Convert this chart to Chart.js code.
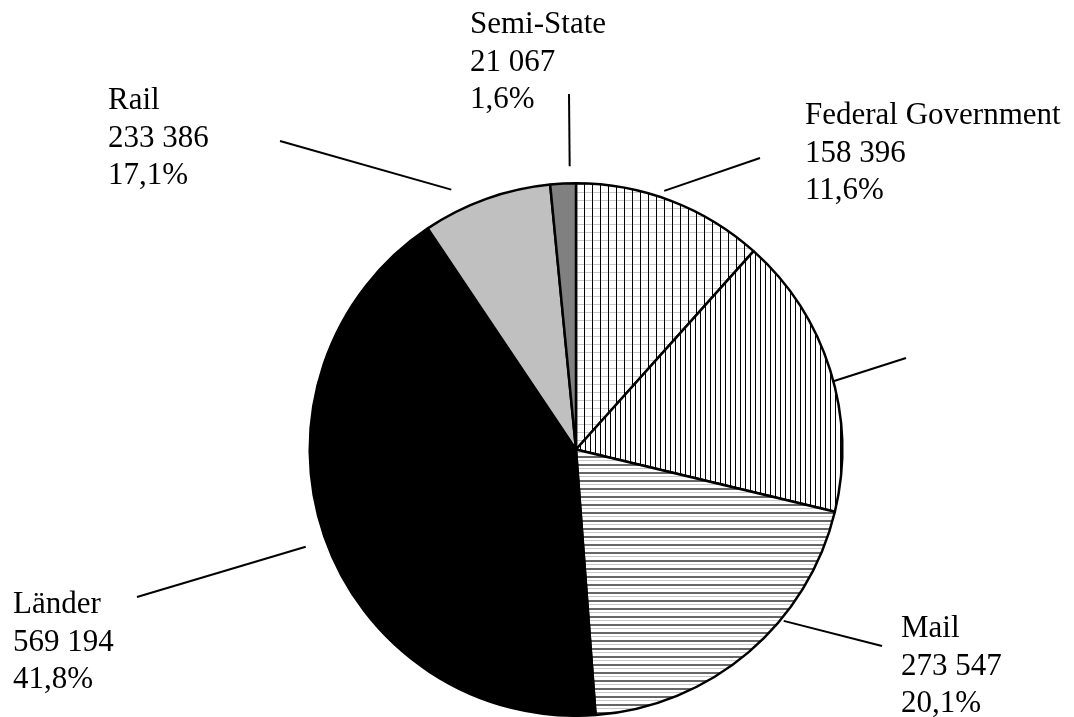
<!DOCTYPE html>
<html>
<head>
<meta charset="utf-8">
<script src="https://cdn.jsdelivr.net/npm/chart.js@4.4.0/dist/chart.umd.min.js"></script>
<style>
  html, body { margin: 0; padding: 0; background: #fff; }
  #wrap { width: 1074px; height: 717px; }
</style>
</head>
<body>
<div id="wrap"><canvas id="chart" width="1074" height="717"></canvas></div>
<script>
// slices clockwise from the top
const categories = ["Federal Government", "", "Mail", "Länder", "Rail", "Semi-State"];
const sliceValues = [158396, 233386, 273547, 569194, 107000, 21067];
// printed label text (as in the picture)
const labelNumbers = ["158 396", "", "273 547", "569 194", "233 386", "21 067"];
const labelShares = ["11,6%", "", "20,1%", "41,8%", "17,1%", "1,6%"];

// leader lines: t = position inside slice, gap = distance from the rim, end = outer point
// text = left x / first baseline of the label block
const labelLayout = [
  { t: 0.45, gap: 7, end: [760, 158], text: [805, 124] },
  { t: 0.54, gap: 0, end: [906, 358], text: null },
  { t: 0.36, gap: 3, end: [882, 646], text: [901, 637] },
  { t: 0.495, gap: 21, end: [137, 597], text: [13, 613] },
  { t: 0.29, gap: 22, end: [280, 141], text: [108, 109] },
  { t: 0.77, gap: 17, end: [569, 94], text: [470, 33] }
];

function makePattern(w, h, draw) {
  const c = document.createElement("canvas");
  c.width = w; c.height = h;
  const g = c.getContext("2d");
  g.fillStyle = "#fff";
  g.fillRect(0, 0, w, h);
  draw(g);
  return document.getElementById("chart").getContext("2d").createPattern(c, "repeat");
}

const gridPattern = makePattern(8, 8, g => {
  g.fillStyle = "#c8c8c8";
  g.fillRect(0, 0, 8, 1);
  g.fillStyle = "#000";
  g.fillRect(0, 0, 1, 8);
});
const vertPattern = makePattern(5, 5, g => {
  g.fillStyle = "#000";
  g.fillRect(0, 0, 1, 5);
});
const horizPattern = makePattern(8, 8, g => {
  g.fillStyle = "#666";
  g.fillRect(0, 0, 8, 2);
  g.fillStyle = "#c8c8c8";
  g.fillRect(0, 4, 8, 1);
});

const fills = [gridPattern, vertPattern, horizPattern, "#000", "#c0c0c0", "#808080"];

const pieLabels = {
  id: "pieLabels",
  afterDatasetsDraw(chart) {
    const ctx = chart.ctx;
    const arcs = chart.getDatasetMeta(0).data;
    ctx.save();
    ctx.strokeStyle = "#000";
    ctx.lineWidth = 2;
    ctx.fillStyle = "#000";
    ctx.font = '31px "Liberation Serif", "Times New Roman", serif';
    ctx.textAlign = "left";
    ctx.textBaseline = "alphabetic";
    arcs.forEach((arc, i) => {
      const lay = labelLayout[i];
      const a = arc.startAngle + (arc.endAngle - arc.startAngle) * lay.t;
      const r = arc.outerRadius + lay.gap;
      ctx.beginPath();
      ctx.moveTo(arc.x + Math.cos(a) * r, arc.y + Math.sin(a) * r);
      ctx.lineTo(lay.end[0], lay.end[1]);
      ctx.stroke();
      if (lay.text) {
        const lines = [categories[i], labelNumbers[i], labelShares[i]];
        lines.forEach((s, k) => ctx.fillText(s, lay.text[0], lay.text[1] + k * 37.5));
      }
    });
    ctx.restore();
  }
};

const ctx = document.getElementById("chart").getContext("2d");
const chart = new Chart(ctx, {
  type: "pie",
  data: {
    labels: categories,
    datasets: [{
      data: sliceValues,
      backgroundColor: fills,
      borderColor: "#000",
      borderWidth: 2.5
    }]
  },
  options: {
    responsive: false,
    animation: false,
    layout: { padding: { top: 182, bottom: 0, left: 308, right: 230 } },
    plugins: {
      legend: { display: false },
      tooltip: { enabled: false }
    }
  },
  plugins: [pieLabels]
});
</script>
</body>
</html>
